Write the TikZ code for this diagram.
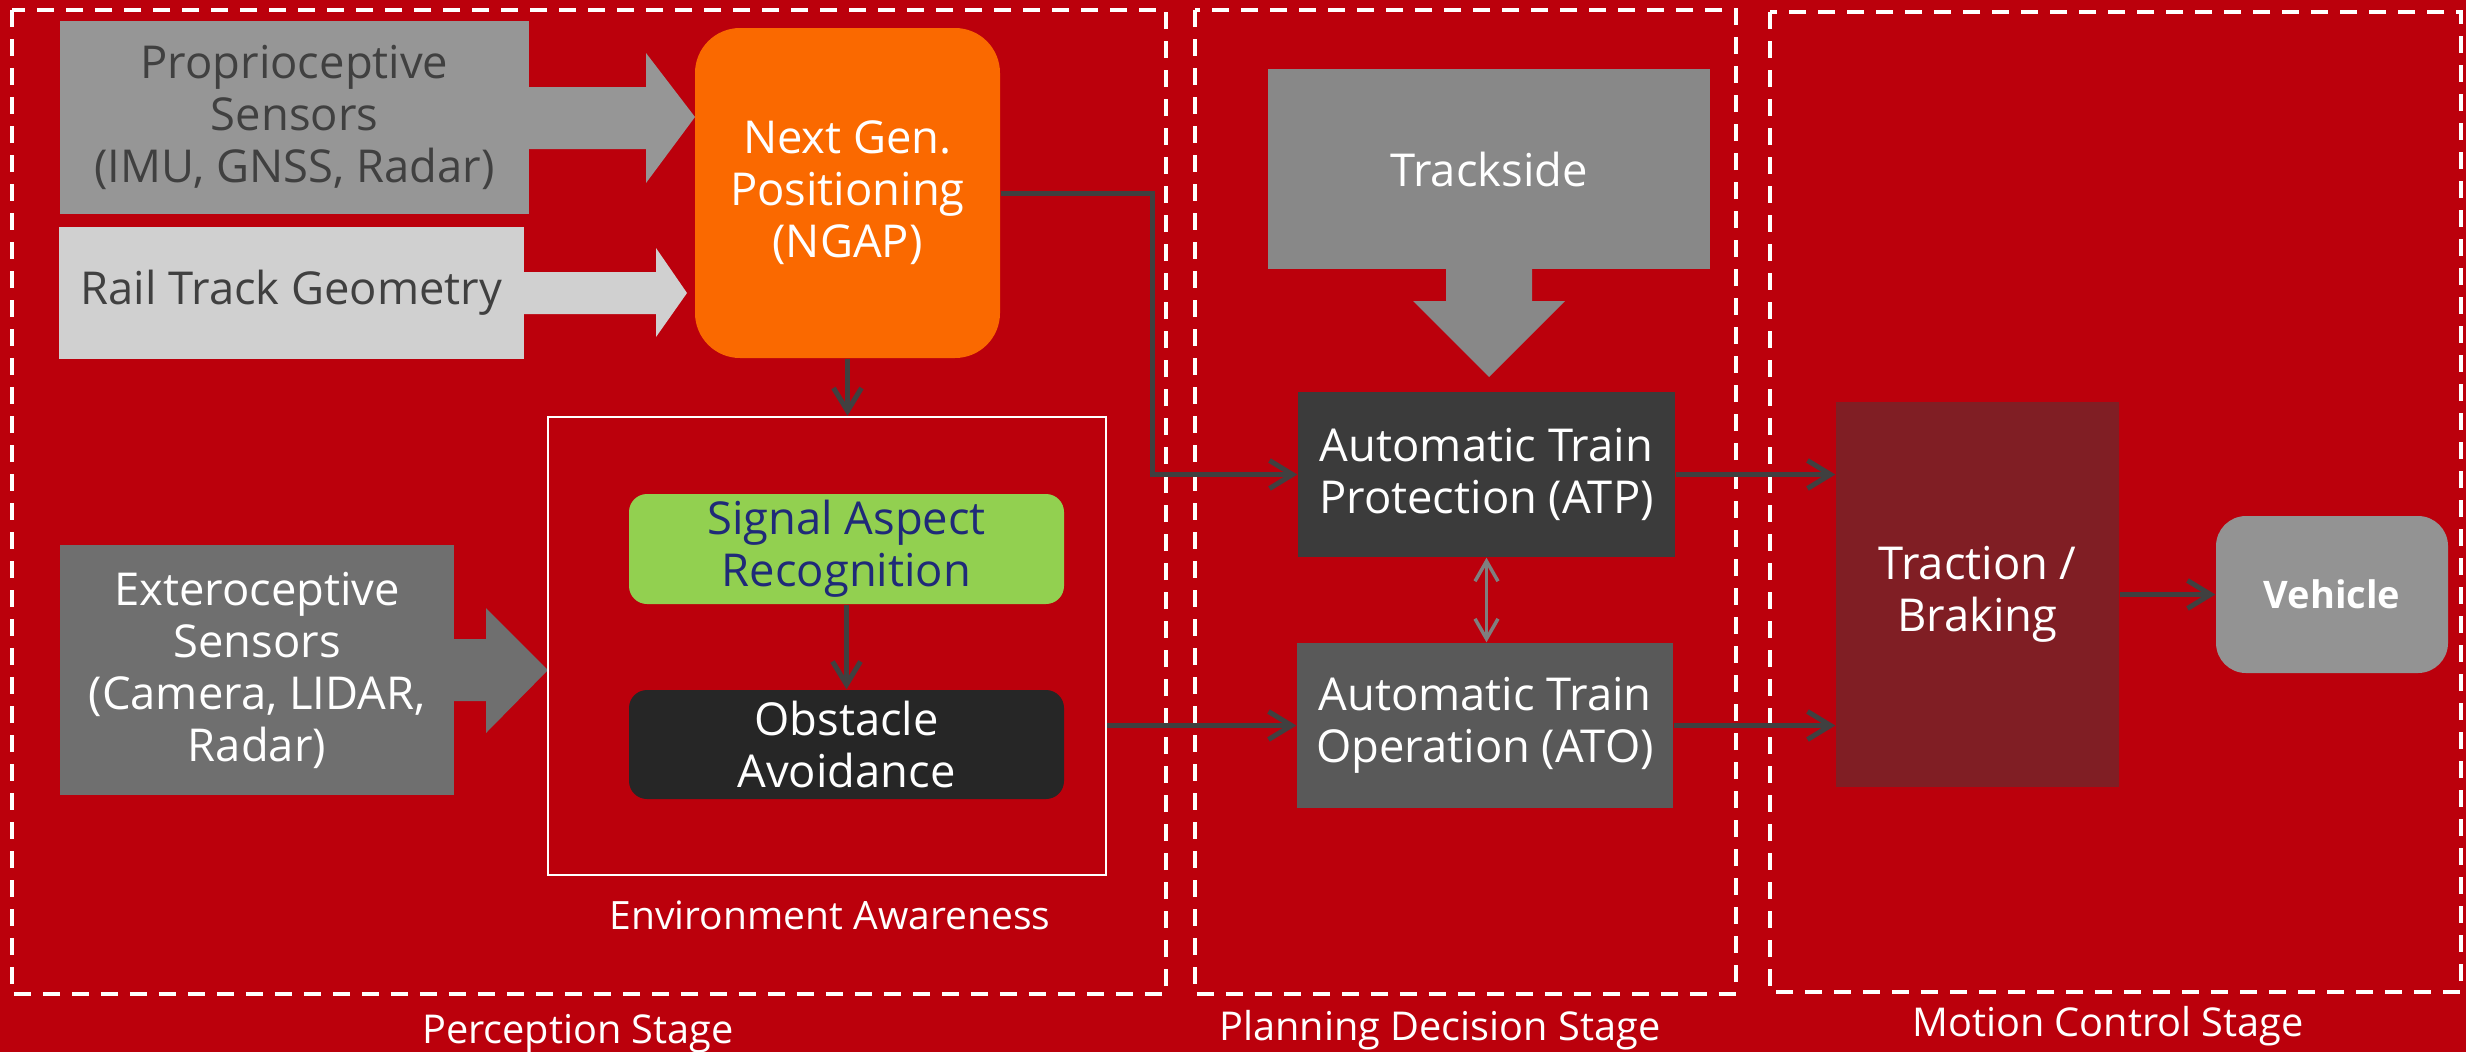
\documentclass[tikz,border=0pt]{standalone}
\usepackage{fontspec}
\setmainfont{Open Sans}
\usetikzlibrary{arrows.meta,calc}

\definecolor{bgred}{HTML}{BB000C}
\definecolor{cline}{HTML}{404040}
\definecolor{propgray}{HTML}{969696}
\definecolor{railgray}{HTML}{D0D0D0}
\definecolor{extgray}{HTML}{6F6F6F}
\definecolor{trackgray}{HTML}{888888}
\definecolor{ngaporange}{HTML}{FA6900}
\definecolor{sargreen}{HTML}{92D050}
\definecolor{sartext}{HTML}{1F2A78}
\definecolor{obsblack}{HTML}{262626}
\definecolor{atpgray}{HTML}{3B3B3B}
\definecolor{atogray}{HTML}{595959}
\definecolor{tracred}{HTML}{801E24}
\definecolor{vehgray}{HTML}{939393}
\definecolor{dblgray}{HTML}{7F7F7F}

\newcommand\blockfont{\fontsize{12.9}{14.8}\selectfont}
\newcommand\stagefont{\fontsize{11.3}{13.5}\selectfont}

\tikzset{
  blk/.style={rectangle, inner sep=0pt, align=center, font=\blockfont, text=white},
  stagebox/.style={draw=white, line width=0.4mm, dash pattern=on 1.7mm off 1.2mm},
  stagelabel/.style={text=white, font=\stagefont, inner sep=0pt},
  conn/.style={draw=cline, line width=0.5mm, -{Straight Barb[length=2.3mm,width=2.8mm]}},
  dconn/.style={draw=dblgray, line width=0.35mm, {Straight Barb[length=2mm,width=2.3mm]}-{Straight Barb[length=2mm,width=2.3mm]}},
}

\begin{document}
\begin{tikzpicture}[x=0.1mm, y=-0.1mm]
  % background
  \fill[bgred] (0,0) rectangle (2466,1052);
  \useasboundingbox (0,0) rectangle (2466,1052);

  % stage frames
  \draw[stagebox] (12,10) rectangle (1166,994);
  \draw[stagebox] (1195,10) rectangle (1736,994);
  \draw[stagebox] (1770,12) rectangle (2461,992);

  \node[stagelabel] (lperc) at (578,1034) {Perception Stage};
  \node[stagelabel] (lplan) at (1440,1030) {Planning Decision Stage};
  \node[stagelabel] (lmot)  at (2108,1026) {Motion Control Stage};

  % perception stage: inputs with block arrows
  \fill[propgray] (525,87) -- (646,87) -- (646,53) -- (695,117) -- (646,183) -- (646,149) -- (525,149) -- cycle;
  \node[blk, fill=propgray, text=cline, minimum width=46.9mm, minimum height=19.3mm] (prop) at (294.5,117.5)
    {Proprioceptive\\Sensors\\(IMU, GNSS, Radar)};

  \fill[railgray] (520,272) -- (656,272) -- (656,248) -- (687,293) -- (656,337) -- (656,314) -- (520,314) -- cycle;
  \node[blk, fill=railgray, text=cline, minimum width=46.5mm, minimum height=13.2mm] (rail) at (291.5,293)
    {Rail Track Geometry};

  \node[blk, fill=ngaporange, rounded corners=4.5mm, minimum width=30.5mm, minimum height=33mm] (ngap) at (847.5,193)
    {Next Gen.\\Positioning\\(NGAP)};

  \fill[extgray] (450,639) -- (486,639) -- (486,608) -- (548,670) -- (486,733) -- (486,701) -- (450,701) -- cycle;
  \node[blk, fill=extgray, minimum width=39.4mm, minimum height=25mm] (extero) at (257,670)
    {Exteroceptive\\Sensors\\(Camera, LIDAR,\\Radar)};

  % environment awareness group
  \node[rectangle, draw=white, line width=0.25mm, inner sep=0pt, minimum width=55.8mm, minimum height=45.8mm] (env) at (827,646) {};
  \node[stagelabel, font=\fontsize{11.1}{13}\selectfont] (lenv) at (830,915) {Environment Awareness};

  \node[blk, fill=sargreen, text=sartext, rounded corners=1.8mm, minimum width=43.5mm, minimum height=11mm] (sar) at (846.5,549)
    {Signal Aspect\\Recognition};
  \node[blk, fill=obsblack, rounded corners=1.8mm, minimum width=43.5mm, minimum height=10.9mm] (obs) at (846.5,744.5)
    {Obstacle\\Avoidance};

  % planning decision stage
  \fill[trackgray] (1446,265) -- (1446,301) -- (1413,301) -- (1489,377) -- (1565,301) -- (1532,301) -- (1532,265) -- cycle;
  \node[blk, fill=trackgray, minimum width=44.2mm, minimum height=20mm] (track) at (1489,169) {Trackside};

  \node[blk, fill=atpgray, minimum width=37.7mm, minimum height=16.5mm] (atp) at (1486.5,474.5)
    {Automatic Train\\Protection (ATP)};
  \node[blk, fill=atogray, minimum width=37.6mm, minimum height=16.5mm] (ato) at (1485,725.5)
    {Automatic Train\\Operation (ATO)};

  % motion control stage
  \node[blk, fill=tracred, minimum width=28.3mm, minimum height=38.5mm] (trac) at (1977.5,594.5)
    {Traction /\\Braking};
  \node[blk, fill=vehgray, rounded corners=3mm, minimum width=23.2mm, minimum height=15.7mm,
        font=\fontsize{10.8}{13}\selectfont\bfseries] (veh) at (2332,594.5) {Vehicle};

  % connectors
  \draw[conn] (ngap.south) -- (ngap.south |- env.north);
  \draw[conn] (sar) -- (obs);
  \draw[conn] (ngap.east) -- ++(152,0) |- (atp.west);
  \draw[conn] (env.east |- ato.west) -- (ato.west);
  \draw[conn] (atp.east) -- (atp.east -| trac.west);
  \draw[conn] (ato.east) -- (ato.east -| trac.west);
  \draw[conn] (trac.east |- veh.west) -- (veh.west);
  \draw[dconn] (atp.south) -- (atp.south |- ato.north);
\end{tikzpicture}
\end{document}
